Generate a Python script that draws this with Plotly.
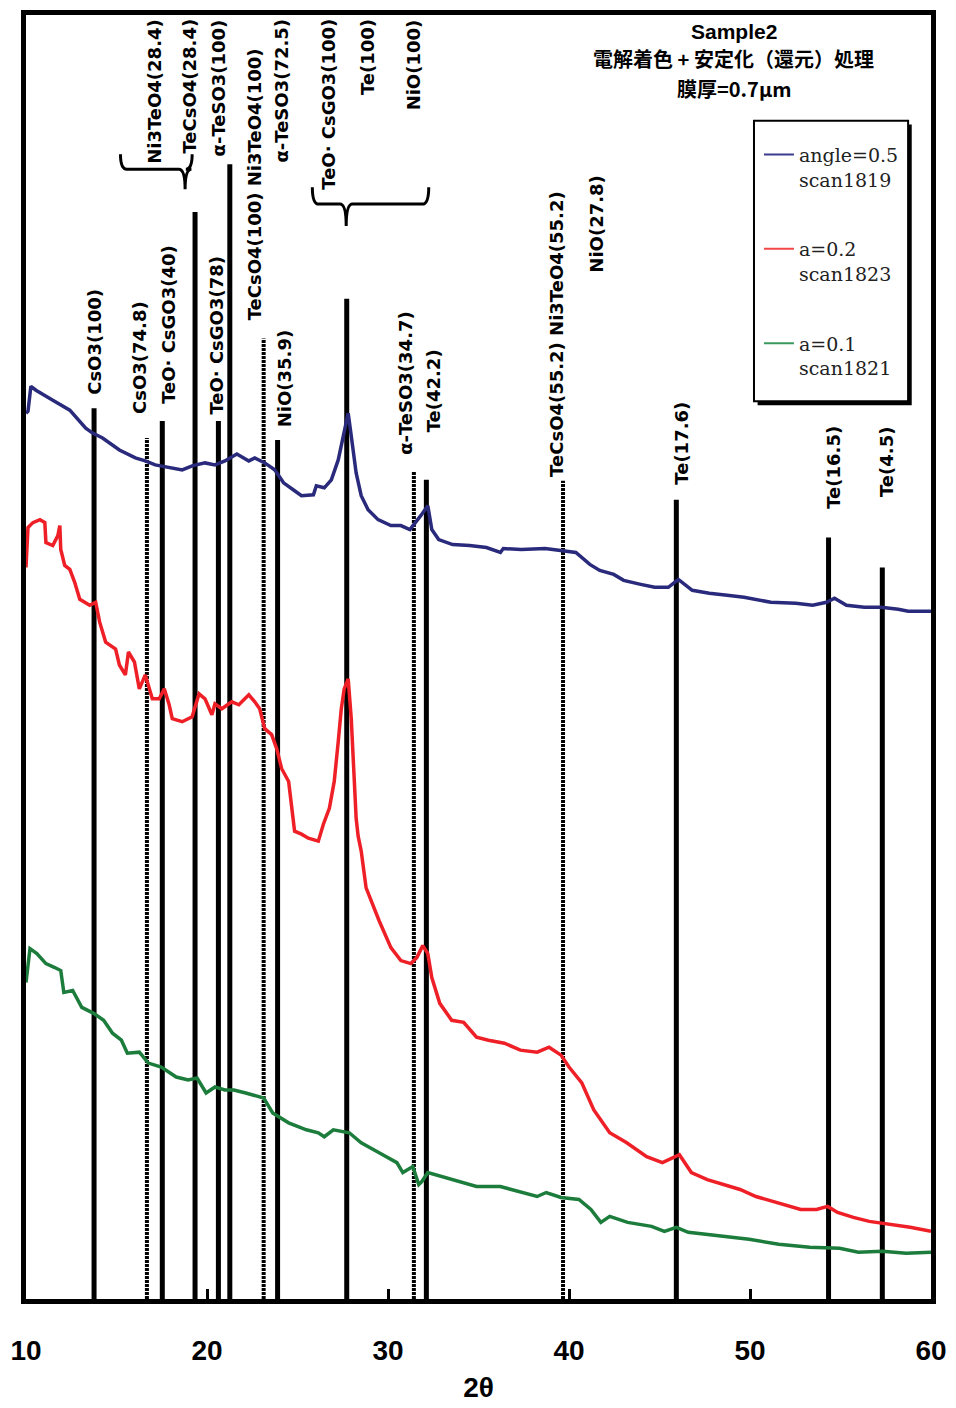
import plotly.graph_objects as go

# ---------------- data ----------------
two_theta_ticks = [10, 20, 30, 40, 50, 60]

blue_x = [10.0, 10.11, 10.27, 10.55, 11.48, 12.42, 13.30, 13.68, 14.23, 15.16,
          16.04, 16.59, 17.14, 17.91, 18.63, 19.18, 19.89, 20.44, 20.99, 21.65,
          22.31, 22.64, 23.19, 23.74, 24.23, 24.84, 25.22, 25.88, 26.04, 26.48,
          26.87, 27.25, 27.53, 27.80, 27.97, 28.24, 28.52, 28.90, 29.45, 30.16,
          30.71, 31.21, 31.81, 32.20, 32.42, 32.80, 33.57, 34.51, 35.44, 36.21,
          36.37, 37.36, 38.68, 39.62, 40.38, 41.15, 41.70, 42.47, 43.02, 43.96,
          44.73, 45.49, 46.04, 46.81, 47.75, 48.74, 49.67, 51.15, 52.53, 53.46,
          54.23, 54.67, 55.33, 56.32, 57.25, 58.19, 58.74, 60.0]
blue_y = [890, 892, 917, 913, 903, 893, 875, 870, 865, 853,
          845, 842, 838, 835, 833, 837, 840, 838, 842, 849,
          842, 845, 840, 833, 820, 812, 807, 808, 817, 815,
          823, 843, 867, 890, 867, 830, 807, 793, 783, 777,
          777, 773, 787, 797, 773, 763, 758, 757, 755, 750,
          754, 753, 754, 752, 750, 738, 732, 728, 722, 718,
          715, 715, 723, 712, 709, 707, 705, 700, 699, 697,
          700, 704, 697, 695, 695, 693, 691, 691]

red_x = [10.0, 10.11, 10.38, 10.77, 11.04, 11.10, 11.48, 11.76, 11.87, 11.92,
         12.14, 12.42, 12.69, 12.97, 13.52, 13.85, 14.07, 14.40, 14.95, 15.16,
         15.49, 15.66, 15.99, 16.26, 16.59, 16.98, 17.36, 17.64, 17.91, 18.08,
         18.63, 19.18, 19.56, 19.89, 20.27, 20.44, 20.82, 21.37, 21.76, 22.31,
         22.64, 22.91, 23.19, 23.57, 23.85, 24.12, 24.51, 24.84, 25.22, 25.60,
         26.15, 26.43, 26.76, 27.03, 27.25, 27.42, 27.58, 27.80, 27.97, 28.13,
         28.24, 28.35, 28.52, 28.79, 29.51, 30.16, 30.71, 31.26, 31.59, 31.92,
         32.20, 32.42, 32.86, 33.52, 34.18, 34.89, 35.55, 36.43, 37.31, 38.24,
         38.90, 39.56, 40.00, 40.71, 41.37, 42.25, 43.19, 44.29, 45.16, 46.10,
         46.76, 47.64, 48.52, 49.45, 50.33, 51.48, 52.80, 53.68, 54.29, 54.84,
         55.71, 56.59, 57.75, 58.85, 60.0]
red_y = [735, 775, 780, 783, 780, 760, 757, 767, 777, 753,
         737, 733, 720, 703, 697, 700, 680, 660, 653, 637,
         627, 650, 640, 613, 627, 603, 603, 613, 597, 583,
         580, 585, 608, 603, 587, 598, 593, 600, 597, 607,
         600, 593, 573, 567, 553, 533, 520, 470, 467, 463,
         460, 477, 493, 520, 560, 593, 613, 623, 583, 523,
         483, 465, 450, 413, 380, 353, 340, 337, 343, 355,
         347, 323, 297, 280, 278, 263, 260, 257, 250, 248,
         253, 245, 233, 217, 190, 167, 157, 143, 137, 145,
         127, 120, 115, 110, 103, 97, 90, 90, 93, 87,
         82, 78, 75, 72, 68]

green_x = [10.0, 10.22, 10.60, 11.10, 11.59, 11.92, 12.09, 12.58, 13.08, 13.74,
           14.29, 14.78, 15.27, 15.60, 16.26, 16.76, 17.47, 18.30, 18.96, 19.45,
           19.95, 20.44, 20.99, 21.48, 22.14, 23.13, 23.63, 24.51, 25.49, 26.15,
           26.48, 26.98, 27.86, 28.52, 29.51, 30.49, 30.82, 31.37, 31.70, 31.87,
           32.20, 33.52, 34.89, 36.21, 37.20, 38.24, 38.74, 39.56, 40.55, 41.21,
           41.76, 42.25, 43.24, 44.56, 45.27, 45.93, 46.59, 48.30, 49.95, 51.59,
           53.30, 54.95, 55.99, 57.31, 58.63, 60.0]
green_y = [318, 352, 347, 337, 333, 330, 308, 310, 293, 287,
           280, 267, 260, 247, 248, 237, 233, 223, 220, 222,
           207, 213, 210, 210, 207, 202, 187, 177, 170, 167,
           163, 170, 167, 157, 147, 137, 127, 133, 115, 118,
           127, 120, 113, 113, 108, 103, 107, 102, 100, 90,
           77, 83, 77, 73, 68, 72, 67, 63, 60, 55,
           52, 51, 47, 48, 46, 47]

series_names = ["angle=0.5<br>scan1819", "a=0.2<br>scan1823", "a=0.1<br>scan1821"]

# reference (stick) lines: position (2θ) and top (same intensity units)
stick_pos = [13.76, 17.53, 19.34, 20.63, 21.26, 23.90, 27.72, 32.12, 45.93, 54.34, 57.31]
stick_top = [895, 882, 1092, 882, 1140, 863, 1005, 823, 803, 765, 735]
dotted_pos = [16.68, 23.13, 31.43, 39.67]
dotted_top = [865, 965, 831, 822]

# phase labels: text, 2θ of label, intensity level of anchor, anchor side
label_text = ["CsO3(100)", "CsO3(74.8)", "TeO· CsGO3(40)", "TeO· CsGO3(78)",
              "TeCsO4(100) Ni3TeO4(100)", "NiO(35.9)", "α-TeSO3(34.7)", "Te(42.2)",
              "TeCsO4(55.2) Ni3TeO4(55.2)", "NiO(27.8)", "Te(17.6)", "Te(16.5)", "Te(4.5)",
              "Ni3TeO4(28.4)", "TeCsO4(28.4)", "α-TeSO3(100)", "α-TeSO3(72.5)",
              "TeO· CsGO3(100)", "Te(100)", "NiO(100)"]
label_x = [13.79, 16.26, 17.91, 20.55, 22.64, 24.29, 30.99, 32.53, 39.34, 41.54,
           46.21, 54.62, 57.53, 17.09, 19.01, 20.66, 24.12, 26.70, 28.90, 31.43]
label_y = [907, 888, 898, 888, 982, 875, 847, 870, 825, 1130,
           817, 793, 805, 1287, 1287, 1287, 1287, 1287, 1287, 1287]
label_anchor = ["bottom"] * 9 + ["top"] + ["bottom"] * 3 + ["top"] * 7

# group brackets: left, tip, right (2θ), end level, bar level, tip level
brackets = [
    [15.22, 18.79, 19.18, 1150, 1135, 1115],
    [25.82, 27.69, 32.25, 1117, 1100, 1078],
]

title_lines = ["Sample2", "電解着色 + 安定化（還元）処理", "膜厚=0.7μm"]

# ---------------- figure ----------------
colors = ["#2a2a7c", "#ee1f26", "#1c7c3c"]
legend_colors = ["#3b3b90", "#f24848", "#3a9a5e"]

fig = go.Figure()

xs_data = [blue_x, red_x, green_x]
ys_data = [blue_y, red_y, green_y]


def stick_xy(pos, top):
    xs, ys = [], []
    for p, t in zip(pos, top):
        xs += [p, p, None]
        ys += [0, t, None]
    return xs, ys


sx, sy = stick_xy(stick_pos, stick_top)
fig.add_trace(go.Scatter(x=sx, y=sy, mode="lines", line=dict(color="black", width=5),
                         showlegend=False, hoverinfo="skip"))
dx, dy = stick_xy(dotted_pos, dotted_top)
fig.add_trace(go.Scatter(x=dx, y=dy, mode="lines",
                         line=dict(color="black", width=4, dash="3px,1px"),
                         showlegend=False, hoverinfo="skip"))

for xs, ys, c, name in zip(xs_data, ys_data, colors, series_names):
    fig.add_trace(go.Scatter(x=xs, y=ys, mode="lines", line=dict(color=c, width=3.5),
                             name=name, showlegend=False))

for i, (c, name) in enumerate(zip(legend_colors, series_names)):
    fig.add_trace(go.Scatter(x=[None], y=[None], mode="lines", line=dict(color=c, width=2),
                             name=name, legendgroup=f"g{i}", showlegend=True))

label_font = dict(family="DejaVu Sans", size=18, color="black", weight="bold")
for t, x, y, a in zip(label_text, label_x, label_y, label_anchor):
    fig.add_annotation(x=x, y=y, xref="x", yref="y", text=t, textangle=-90,
                       showarrow=False, xanchor="center", yanchor=a, font=label_font,
                       borderpad=0)

shapes = []
for xl, xt, xr, ye, ym, yb in brackets:
    d = 0.35
    path = (f"M {xl},{ye} Q {xl},{ym} {xl + d},{ym} L {xt - d},{ym} "
            f"Q {xt},{ym} {xt},{yb} Q {xt},{ym} {xt + d},{ym} "
            f"L {xr - d},{ym} Q {xr},{ym} {xr},{ye}")
    shapes.append(dict(type="path", path=path, xref="x", yref="y",
                       line=dict(color="black", width=3)))

# legend frame (with a shadow on the right / bottom edges)
lx0, lx1, ly0, ly1 = 0.8044, 0.9747, 0.6991, 0.9177
shapes.append(dict(type="rect", xref="paper", yref="paper",
                   x0=lx0 + 0.004, x1=lx1 + 0.004, y0=ly0 - 0.003, y1=ly1 - 0.003,
                   fillcolor="black", line=dict(width=0), layer="above"))
shapes.append(dict(type="rect", xref="paper", yref="paper",
                   x0=lx0, x1=lx1, y0=ly0, y1=ly1,
                   fillcolor="white", line=dict(color="black", width=2), layer="above"))

title_fonts = [
    dict(family="Liberation Sans, Arial, sans-serif", size=21, color="black", weight="bold"),
    dict(family="Noto Sans CJK JP", size=20, color="black", weight="bold"),
    dict(family="Noto Sans CJK JP", size=20, color="black", weight="bold"),
]
for t, yy, f in zip(title_lines, [0.9875, 0.9665, 0.9430], title_fonts):
    fig.add_annotation(x=0.782, y=yy, xref="paper", yref="paper", text=t,
                       showarrow=False, xanchor="center", yanchor="middle", font=f,
                       borderpad=0)

axis_font = dict(family="Liberation Sans, Arial, sans-serif",
                 size=28, color="black", weight="bold")

fig.update_layout(
    width=948, height=1400,
    margin=dict(l=13, r=25, t=2, b=109),
    paper_bgcolor="white", plot_bgcolor="white",
    shapes=shapes,
    xaxis=dict(range=[10, 60], tickvals=two_theta_ticks, ticks="inside", ticklen=10,
               tickwidth=3, tickcolor="black", showgrid=False, zeroline=False,
               showline=True, mirror=True, linecolor="black", linewidth=5,
               tickfont=axis_font, ticklabelstandoff=22, ticklabeloverflow="allow",
               title=dict(text="2θ", font=axis_font, standoff=14)),
    yaxis=dict(range=[0, 1290], showticklabels=False, ticks="", showgrid=False,
               zeroline=False, showline=True, mirror=True, linecolor="black", linewidth=5),
    legend=dict(x=0.8099, y=0.9061, xanchor="left", yanchor="top",
                borderwidth=0, bgcolor="rgba(0,0,0,0)", tracegroupgap=42, valign="top",
                font=dict(family="DejaVu Serif", size=19, color="#222222")),
    showlegend=True,
)

fig.write_html("out.html")
